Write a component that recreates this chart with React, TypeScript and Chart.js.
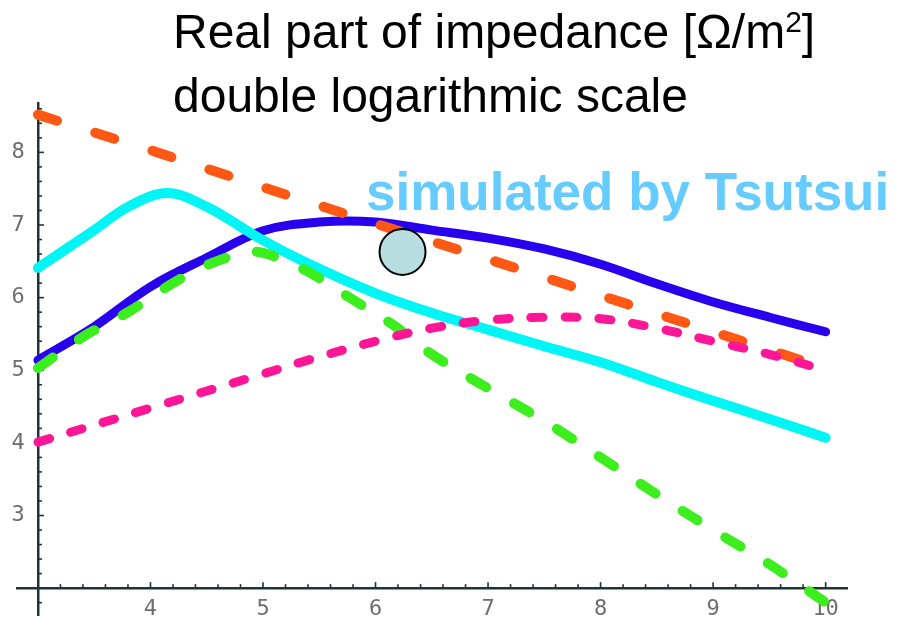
import React, { useEffect, useRef } from 'react';
import { Chart, registerables } from 'chart.js';

Chart.register(...registerables);

// ---- data ----
const titleLine1 = 'Real part of impedance [Ω/m';
const titleSup = '2';
const titleLine1End = ']';
const titleLine2 = 'double logarithmic scale';
const annotationText = 'simulated by Tsutsui';

const orangeX = [3, 4, 5, 6, 7, 8, 9, 10];
const orangeY = [8.52, 8.03, 7.52, 7.02, 6.53, 6.03, 5.53, 5.03];

const blueX = [3, 3.5, 4, 4.5, 5, 5.5, 6, 6.5, 7, 7.5, 8, 8.5, 9, 9.5, 10];
const blueY = [5.14, 5.6, 6.15, 6.55, 6.92, 7.04, 7.04, 6.93, 6.82, 6.67, 6.46, 6.19, 5.94, 5.73, 5.53];

const cyanX = [3, 3.5, 3.8, 4.15, 4.5, 5, 5.4, 6, 6.5, 7, 7.5, 8, 8.5, 9, 9.5, 10];
const cyanY = [6.41, 6.93, 7.25, 7.44, 7.25, 6.79, 6.47, 6.06, 5.79, 5.56, 5.33, 5.11, 4.84, 4.58, 4.33, 4.07];

const greenX = [3, 3.4, 3.8, 4.2, 4.55, 4.9, 5.1, 5.42, 5.77, 6.16, 6.5, 7, 7.5, 8, 8.5, 9, 9.5, 10];
const greenY = [5.03, 5.46, 5.8, 6.2, 6.48, 6.63, 6.57, 6.34, 6.0, 5.62, 5.22, 4.75, 4.3, 3.8, 3.29, 2.8, 2.33, 1.8];

const pinkX = [3, 4, 5, 5.4, 6, 6.5, 7, 7.5, 8, 8.5, 9, 9.5, 10];
const pinkY = [4.01, 4.48, 4.95, 5.14, 5.4, 5.58, 5.69, 5.73, 5.71, 5.58, 5.4, 5.22, 5.0];

const markerX = [6.24];
const markerY = [6.63];

const xRange = [2.82, 10.19];
const yRange = [1.63, 8.68];
const axisCrossX = 3;
const axisCrossY = 2;
const tickStep = 0.2;
const xFirstLabel = 4;
const yFirstLabel = 3;

const AXIS_COLOR = 'rgb(32,52,52)';
const TICK_LABEL_COLOR = 'rgb(110,110,110)';
const TICK_FONT = { family: 'DejaVu Sans Mono', size: 22 };

const toPts = (xs: number[], ys: number[]) => xs.map((x, i) => ({ x, y: ys[i] }));
const isInt = (v: number) => Math.abs(v - Math.round(v)) < 1e-6;
const isStep = (v: number) => Math.abs(v / tickStep - Math.round(v / tickStep)) < 1e-6;

const zeroPadding = (scale: any) => {
  scale.paddingTop = 0;
  scale.paddingBottom = 0;
  scale.paddingLeft = 0;
  scale.paddingRight = 0;
};

const innerTicks = {
  id: 'innerTicks',
  beforeDatasetsDraw(chart: any) {
    const { ctx, scales } = chart;
    const xs = scales.x;
    const ys = scales.y;
    const x0 = xs.getPixelForValue(axisCrossX);
    const y0 = ys.getPixelForValue(axisCrossY);
    ctx.save();
    ctx.strokeStyle = AXIS_COLOR;
    ctx.lineWidth = 1.6;
    xs.ticks.forEach((t: any) => {
      const v = t.value;
      if (!isStep(v) || Math.abs(v - axisCrossX) < 1e-6) return;
      const px = xs.getPixelForValue(v);
      const len = isInt(v) ? 6 : 4;
      ctx.beginPath();
      ctx.moveTo(px, y0);
      ctx.lineTo(px, y0 - len);
      ctx.stroke();
    });
    ys.ticks.forEach((t: any) => {
      const v = t.value;
      if (!isStep(v) || Math.abs(v - axisCrossY) < 1e-6) return;
      const py = ys.getPixelForValue(v);
      const len = isInt(v) ? 6 : 4;
      ctx.beginPath();
      ctx.moveTo(x0, py);
      ctx.lineTo(x0 + len, py);
      ctx.stroke();
    });
    ctx.restore();
  },
};

export default function App() {
  const canvasRef = useRef<HTMLCanvasElement | null>(null);

  useEffect(() => {
    const canvas = canvasRef.current;
    if (!canvas) return;
    const lineBase = {
      showLine: true,
      pointRadius: 0,
      pointHoverRadius: 0,
      fill: false,
      borderCapStyle: 'round' as const,
      borderJoinStyle: 'round' as const,
    };
    const chart = new Chart(canvas, {
      type: 'scatter',
      data: {
        datasets: [
          {
            ...lineBase,
            label: 'marker',
            data: toPts(markerX, markerY),
            showLine: false,
            pointRadius: 23,
            pointBackgroundColor: 'rgb(184,222,226)',
            pointBorderColor: '#000',
            pointBorderWidth: 2,
            order: 0,
          },
          {
            ...lineBase,
            label: 'pink',
            data: toPts(pinkX, pinkY),
            borderColor: 'rgb(255,22,150)',
            borderWidth: 9,
            borderDash: [12, 22],
            tension: 0.35,
            order: 1,
          },
          {
            ...lineBase,
            label: 'orange',
            data: toPts(orangeX, orangeY),
            borderColor: 'rgb(255,88,20)',
            borderWidth: 10,
            borderDash: [20, 40],
            tension: 0,
            order: 2,
          },
          {
            ...lineBase,
            label: 'green',
            data: toPts(greenX, greenY),
            borderColor: 'rgb(60,238,30)',
            borderWidth: 10,
            borderDash: [18, 32],
            tension: 0.35,
            order: 3,
          },
          {
            ...lineBase,
            label: 'cyan',
            data: toPts(cyanX, cyanY),
            borderColor: 'rgb(0,245,245)',
            borderWidth: 10,
            tension: 0.35,
            order: 4,
          },
          {
            ...lineBase,
            label: 'blue',
            data: toPts(blueX, blueY),
            borderColor: 'rgb(40,0,238)',
            borderWidth: 9,
            tension: 0.35,
            order: 5,
          },
        ],
      },
      options: {
        responsive: false,
        animation: false,
        events: [],
        layout: { autoPadding: false, padding: { left: 17.7, right: 51, top: 103, bottom: 6 } },
        plugins: {
          legend: { display: false },
          tooltip: { enabled: false },
          title: { display: false },
        },
        scales: {
          x: {
            type: 'linear',
            min: xRange[0],
            max: xRange[1],
            position: { y: axisCrossY } as any,
            afterFit: zeroPadding,
            grid: { display: false, drawTicks: false },
            border: { display: true, color: AXIS_COLOR, width: 2.5 },
            ticks: {
              stepSize: tickStep,
              includeBounds: false,
              autoSkip: false,
              maxRotation: 0,
              minRotation: 0,
              padding: 8,
              color: TICK_LABEL_COLOR,
              font: TICK_FONT,
              callback: (v: any) => {
                const n = Number(v);
                return isInt(n) && n >= xFirstLabel - 1e-6 ? String(Math.round(n)) : '';
              },
            },
          },
          y: {
            type: 'linear',
            min: yRange[0],
            max: yRange[1],
            position: { x: axisCrossX } as any,
            afterFit: zeroPadding,
            grid: { display: false, drawTicks: false },
            border: { display: true, color: AXIS_COLOR, width: 2.5 },
            ticks: {
              stepSize: tickStep,
              includeBounds: false,
              autoSkip: false,
              padding: 10,
              color: TICK_LABEL_COLOR,
              font: TICK_FONT,
              callback: (v: any) => {
                const n = Number(v);
                return isInt(n) && n >= yFirstLabel - 1e-6 ? String(Math.round(n)) + ' ' : '';
              },
            },
          },
        },
      },
      plugins: [innerTicks],
    });
    return () => chart.destroy();
  }, []);

  return (
    <div
      style={{
        position: 'fixed',
        left: 0,
        top: 0,
        width: 898,
        height: 621,
        background: '#fff',
        overflow: 'hidden',
      }}
    >
      <canvas ref={canvasRef} width={898} height={621} style={{ display: 'block', position: 'absolute', left: 0, top: 0 }} />
      <div
        style={{
          position: 'absolute',
          left: 173,
          top: 3,
          fontFamily: '"Liberation Sans", Arial, sans-serif',
          fontSize: 48,
          lineHeight: '58px',
          color: '#000',
          whiteSpace: 'nowrap',
        }}
      >
        <div>
          {titleLine1}
          <span style={{ fontSize: 30, position: 'relative', top: -16 }}>{titleSup}</span>
          {titleLine1End}
        </div>
        <div>{titleLine2}</div>
      </div>
      <div
        style={{
          position: 'absolute',
          left: 366,
          top: 165,
          fontFamily: '"Liberation Sans", Arial, sans-serif',
          fontWeight: 'bold',
          fontSize: 53,
          lineHeight: '53px',
          color: 'rgb(102,204,255)',
          whiteSpace: 'nowrap',
        }}
      >
        {annotationText}
      </div>
    </div>
  );
}
